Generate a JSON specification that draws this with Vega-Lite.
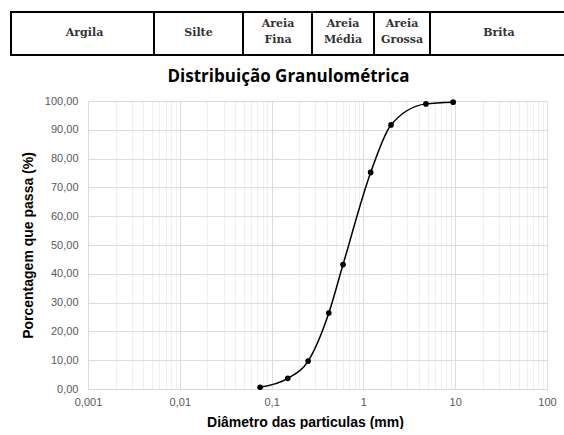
{
  "$schema": "https://vega.github.io/schema/vega-lite/v6.json",
  "padding": {"left": 10, "top": 11, "right": 0, "bottom": 0},
  "background": "white",
  "spacing": 12,
  "config": {"view": {"stroke": null}},
  "vconcat": [
    {
      "width": 477,
      "height": 43,
      "data": {"values": [
        {"faixa": "Argila", "ini": 0, "fim": 143, "meio": 73.5},
        {"faixa": "Silte", "ini": 143, "fim": 232, "meio": 187.5},
        {"faixa": "Areia\nFina", "ini": 232, "fim": 301, "meio": 267},
        {"faixa": "Areia\nMédia", "ini": 301, "fim": 363, "meio": 332},
        {"faixa": "Areia\nGrossa", "ini": 363, "fim": 419, "meio": 391},
        {"faixa": "Brita", "ini": 419, "fim": 562, "meio": 488}
      ]},
      "layer": [
        {
          "mark": {"type": "rect", "fill": "white", "stroke": "black", "strokeWidth": 2},
          "encoding": {
            "x": {"field": "ini", "type": "quantitative", "scale": {"domain": [77, 554], "nice": false, "zero": false}, "axis": null},
            "x2": {"field": "fim"}
          }
        },
        {
          "transform": [{"filter": {"field": "faixa", "oneOf": ["Argila", "Silte", "Brita"]}}],
          "mark": {"type": "text", "font": "DejaVu Serif", "fontWeight": "bold", "fontSize": 11, "color": "#333333", "align": "center", "baseline": "middle", "dy": -1},
          "encoding": {
            "x": {"field": "meio", "type": "quantitative"},
            "text": {"field": "faixa", "type": "nominal"}
          }
        },
        {
          "transform": [{"filter": {"not": {"field": "faixa", "oneOf": ["Argila", "Silte", "Brita"]}}}],
          "mark": {"type": "text", "font": "DejaVu Serif", "fontWeight": "bold", "fontSize": 11, "lineBreak": "\n", "lineHeight": 16, "color": "#333333", "align": "center", "baseline": "middle", "dy": -9.5},
          "encoding": {
            "x": {"field": "meio", "type": "quantitative"},
            "text": {"field": "faixa", "type": "nominal"}
          }
        }
      ]
    },
    {
      "width": 459,
      "height": 288,
      "title": {"text": "Distribuição Granulométrica", "font": "Open Sans", "fontSize": 17, "fontWeight": "bold", "color": "black", "offset": 9, "anchor": "middle", "dx": -29},
      "data": {"values": [
        {"diametro": 0.075, "passa": 0.6},
        {"diametro": 0.15, "passa": 3.7},
        {"diametro": 0.25, "passa": 9.7},
        {"diametro": 0.42, "passa": 26.4},
        {"diametro": 0.6, "passa": 43.2},
        {"diametro": 1.2, "passa": 75.2},
        {"diametro": 2.0, "passa": 91.7},
        {"diametro": 4.8, "passa": 99.0},
        {"diametro": 9.5, "passa": 99.6}
      ]},
      "encoding": {
        "x": {
          "field": "diametro", "type": "quantitative",
          "scale": {"type": "log", "domain": [0.001, 100], "nice": false},
          "axis": {
            "title": "Diâmetro das particulas (mm)",
            "titleFont": "Liberation Sans", "titleFontSize": 14, "titleFontWeight": "bold", "titleColor": "black",
            "titleX": 217, "titleAlign": "center", "titlePadding": 8,
            "values": [0.001,0.002,0.003,0.004,0.005,0.006,0.007,0.008,0.009,0.01,0.02,0.03,0.04,0.05,0.06,0.07,0.08,0.09,0.1,0.2,0.3,0.4,0.5,0.6,0.7,0.8,0.9,1,2,3,4,5,6,7,8,9,10,20,30,40,50,60,70,80,90,100],
            "labelExpr": "indexof([0.001,0.01,0.1,1,10,100], datum.value) >= 0 ? replace(toString(datum.value), '.', ',') : ''",
            "labelFont": "Liberation Sans", "labelFontSize": 11, "labelColor": "#595959", "labelPadding": 7,
            "labelOverlap": false, "labelFlush": false,
            "ticks": false,
            "domain": true, "domainColor": "#d9d9d9", "domainWidth": 1,
            "grid": true,
            "gridColor": {"condition": {"test": "indexof([0.001,0.01,0.1,1,10,100], datum.value) >= 0", "value": "#dcdcdc"}, "value": "#efefef"},
            "gridWidth": 1
          }
        },
        "y": {
          "field": "passa", "type": "quantitative",
          "scale": {"domain": [0, 100], "nice": false},
          "axis": {
            "title": "Porcentagem que passa (%)",
            "titleFont": "Liberation Sans", "titleFontSize": 14, "titleFontWeight": "bold", "titleColor": "black",
            "titlePadding": 9,
            "values": [0,10,20,30,40,50,60,70,80,90,100],
            "labelExpr": "replace(format(datum.value, '.2f'), '.', ',')",
            "labelFont": "Liberation Sans", "labelFontSize": 11, "labelColor": "#595959", "labelPadding": 10,
            "ticks": false, "domain": false,
            "grid": true, "gridColor": "#dcdcdc", "gridWidth": 1
          }
        }
      },
      "layer": [
        {"mark": {"type": "line", "interpolate": "monotone", "color": "black", "strokeWidth": 1.5}},
        {"mark": {"type": "point", "filled": true, "color": "black", "size": 32, "opacity": 1}}
      ]
    }
  ]
}
